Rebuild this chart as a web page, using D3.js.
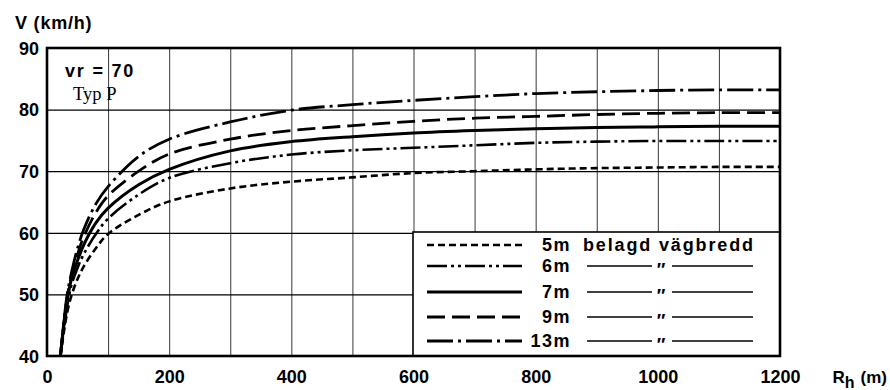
<!DOCTYPE html>
<html>
<head>
<meta charset="utf-8">
<script src="https://cdn.jsdelivr.net/npm/d3@7"></script>
<style>
  html, body { margin: 0; padding: 0; background: #fff; }
  svg { display: block; }
  .lbl { font-family: "Liberation Sans", Arial, sans-serif; font-weight: bold; fill: #000; }
</style>
</head>
<body>
<svg id="chart" width="890" height="390"></svg>
<script>
// ---- data ----
const radii = [22, 27, 33, 40, 50, 60, 80, 100, 150, 200, 300, 400, 500, 600, 700, 800, 900, 1000, 1100, 1200];
const v5m  = [40, 43.5, 47, 49.8, 52.5, 54.5, 57.5, 59.8, 62.9, 65.1, 67.2, 68.3, 69.0, 69.7, 70.0, 70.3, 70.5, 70.6, 70.7, 70.7];
const v6m  = [40, 44, 48, 51.5, 54.3, 56.5, 59.8, 62.3, 66.2, 68.9, 71.3, 72.7, 73.4, 73.8, 74.2, 74.6, 74.8, 74.9, 74.9, 74.9];
const v7m  = [40, 44.5, 49, 52.5, 55.5, 58, 61.6, 64.0, 67.8, 70.3, 73.3, 74.8, 75.6, 76.2, 76.6, 76.9, 77.1, 77.2, 77.3, 77.3];
const v9m  = [40, 45, 49.5, 53, 56.5, 59.3, 63.3, 66.0, 70.0, 72.8, 75.2, 76.6, 77.4, 78.1, 78.6, 78.9, 79.2, 79.4, 79.5, 79.5];
const v13m = [40, 45, 50, 53.5, 57.5, 60.5, 64.7, 67.5, 72.4, 75.2, 78.0, 79.9, 80.8, 81.5, 82.1, 82.6, 82.9, 83.1, 83.2, 83.2];
const seriesNames = ["5m", "6m", "7m", "9m", "13m"];
const seriesValues = [v5m, v6m, v7m, v9m, v13m];
const xTicks = [0, 200, 400, 600, 800, 1000, 1200];
const xGrid = [100, 200, 300, 400, 500, 600, 700, 800, 900, 1000, 1100];
const yTicks = [40, 50, 60, 70, 80, 90];
const yGrid = [50, 60, 70, 80];
const yTitle = "V (km/h)";
const noteLine1 = "vr = 70";
const noteLine2 = "Typ P";
const legendSuffix = "belagd vägbredd";
const ditto = "\u2033";

// ---- styles ----
const dashes = {
  "5m": "7,4",
  "6m": "20,4,3,4,3,4",
  "7m": null,
  "9m": "18,7",
  "13m": "26,5,3,5"
};
const widths = { "5m": 2.6, "6m": 2.6, "7m": 3, "9m": 2.8, "13m": 2.8 };

const svg = d3.select("#chart");
const x = d3.scaleLinear().domain([0, 1200]).range([47, 780]);
const y = d3.scaleLinear().domain([40, 90]).range([356, 48]);

svg.append("clipPath").attr("id", "clip")
  .append("rect").attr("x", x(0)).attr("y", y(90)).attr("width", x(1200) - x(0)).attr("height", y(40) - y(90));

// vertical grid
svg.append("g").attr("transform", `translate(0,${y(40)})`)
  .call(d3.axisBottom(x).tickValues(xGrid).tickSize(-(y(40) - y(90))).tickFormat(""))
  .call(g => g.select(".domain").remove())
  .call(g => g.selectAll("line").attr("stroke", "#222").attr("stroke-width", 0.9));

// horizontal grid
svg.append("g").attr("transform", `translate(${x(0)},0)`)
  .call(d3.axisLeft(y).tickValues(yGrid).tickSize(-(x(1200) - x(0))).tickFormat(""))
  .call(g => g.select(".domain").remove())
  .call(g => g.selectAll("line").attr("stroke", "#000").attr("stroke-width", 1.3));

// curves
const line = d3.line().x((d, i) => x(radii[i])).y(d => y(d)).curve(d3.curveCatmullRom.alpha(0.5));
const curves = svg.append("g").attr("clip-path", "url(#clip)");
seriesNames.forEach((name, k) => {
  curves.append("path")
    .attr("d", line(seriesValues[k]))
    .attr("fill", "none")
    .attr("stroke", "#000")
    .attr("stroke-width", widths[name])
    .attr("stroke-dasharray", dashes[name])
    .attr("stroke-linecap", "butt");
});

// legend box
const lgX0 = 413, lgY0 = 232;
svg.append("rect").attr("x", lgX0).attr("y", lgY0)
  .attr("width", x(1200) - lgX0).attr("height", y(40) - lgY0)
  .attr("fill", "#fff").attr("stroke", "#000").attr("stroke-width", 1.6);

const rowY = [245, 266, 292, 317, 341];
seriesNames.forEach((name, k) => {
  const g = svg.append("g");
  const yy = rowY[k];
  g.append("line").attr("x1", 427).attr("x2", 522).attr("y1", yy).attr("y2", yy)
    .attr("stroke", "#000").attr("stroke-width", widths[name])
    .attr("stroke-dasharray", dashes[name]);
  g.append("text").attr("class", "lbl").attr("x", 571).attr("y", yy)
    .attr("text-anchor", "end").attr("dominant-baseline", "central")
    .attr("font-size", 18).attr("letter-spacing", 1.5).text(name);
  if (k === 0) {
    g.append("text").attr("class", "lbl").attr("x", 583).attr("y", yy)
      .attr("dominant-baseline", "central").attr("font-size", 18)
      .attr("textLength", 170).attr("lengthAdjust", "spacing").text(legendSuffix);
  } else {
    g.append("line").attr("x1", 587).attr("x2", 652).attr("y1", yy).attr("y2", yy)
      .attr("stroke", "#000").attr("stroke-width", 1.4);
    g.append("text").attr("class", "lbl").attr("x", 661).attr("y", yy + 10).attr("text-anchor", "middle")
      .attr("font-size", 18).text(ditto);
    g.append("line").attr("x1", 672).attr("x2", 753).attr("y1", yy).attr("y2", yy)
      .attr("stroke", "#000").attr("stroke-width", 1.4);
  }
});

// frame
svg.append("rect").attr("x", x(0)).attr("y", y(90))
  .attr("width", x(1200) - x(0)).attr("height", y(40) - y(90))
  .attr("fill", "none").attr("stroke", "#000").attr("stroke-width", 2.6);

// y tick labels
svg.append("g").attr("transform", `translate(${x(0)},0)`)
  .call(d3.axisLeft(y).tickValues(yTicks).tickSize(0).tickPadding(8))
  .call(g => g.select(".domain").remove())
  .call(g => g.selectAll("text").attr("class", "lbl").attr("font-size", 18).attr("dy", "0.35em"));

// x tick labels
svg.append("g").attr("transform", `translate(0,${y(40)})`)
  .call(d3.axisBottom(x).tickValues(xTicks).tickSize(0).tickPadding(14).tickFormat(d3.format("d")))
  .call(g => g.select(".domain").remove())
  .call(g => g.selectAll("text").attr("class", "lbl").attr("font-size", 18));

// axis titles
svg.append("text").attr("class", "lbl").attr("x", 15).attr("y", 29)
  .attr("font-size", 18).attr("letter-spacing", 0.8).text(yTitle);
const xt = svg.append("text").attr("class", "lbl").attr("x", 887).attr("y", 383)
  .attr("text-anchor", "end").attr("font-size", 17);
xt.append("tspan").text("R");
xt.append("tspan").attr("dy", 5).attr("font-size", 16).text("h");
xt.append("tspan").attr("dy", -5).attr("dx", 6).text("(m)");

// notes
svg.append("text").attr("class", "lbl").attr("x", 65).attr("y", 77)
  .attr("font-size", 18).attr("letter-spacing", 1.8).text(noteLine1);
svg.append("text").attr("x", 73).attr("y", 100)
  .attr("font-family", "Liberation Serif, Times New Roman, serif").attr("font-size", 18.5)
  .text(noteLine2);
</script>
</body>
</html>
